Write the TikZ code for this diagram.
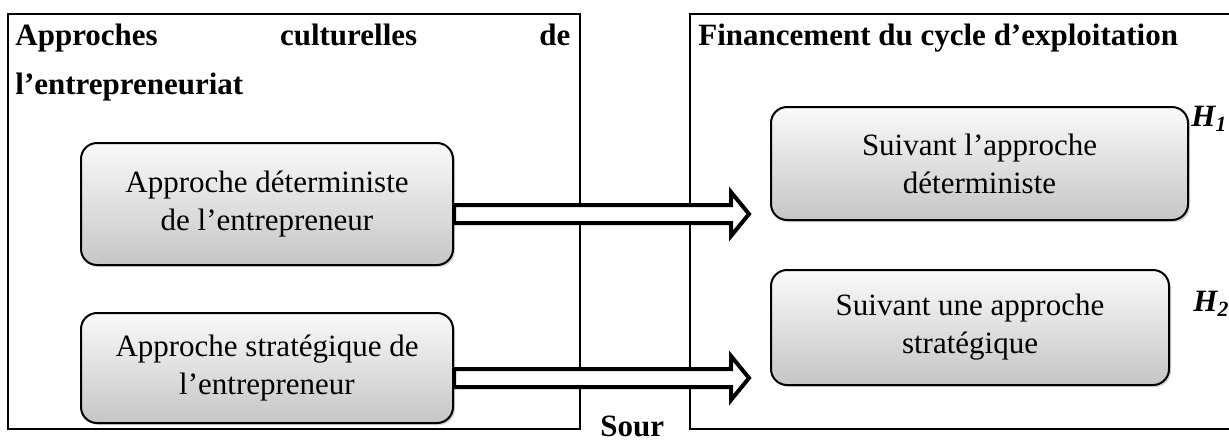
\documentclass[tikz,border=0pt]{standalone}
\usepackage{fontspec}
\setmainfont{Liberation Serif}
\usetikzlibrary{calc, shadows}

\tikzset{
  cadre/.style={draw, line width=1pt},
  titre/.style={font=\fontsize{15.5}{24.5}\selectfont\bfseries, inner sep=0pt},
  bloc/.style={draw, line width=1pt, rounded corners=8pt, top color=gray!4, bottom color=gray!45,
    drop shadow={shadow xshift=1pt, shadow yshift=-1pt, opacity=0.35},
    align=center, inner sep=0pt, font=\fontsize{15.5}{19}\selectfont},
  fleche/.style={draw, fill=white, line width=2pt, line join=miter,
    to path={let \p1=(\tikztostart), \p2=(\tikztotarget) in
      (\x1,\y1+4.5pt) -- (\x2-9pt,\y1+4.5pt) -- (\x2-9pt,\y1+11pt) -- (\x2,\y1)
      -- (\x2-9pt,\y1-11pt) -- (\x2-9pt,\y1-4.5pt) -- (\x1,\y1-4.5pt) -- cycle}},
  hyp/.style={font=\fontsize{15.5}{15.5}\selectfont\bfseries\itshape, anchor=west, inner sep=0pt}
}

\begin{document}
\begin{tikzpicture}[x=0.5pt, y=-0.5pt]
    \useasboundingbox (0,0) rectangle (1229,441);
    \clip (0,0) rectangle (1229,441);

    \draw[cadre] (8,14) rectangle (580,429);
    \draw[cadre] (690,14) rectangle (1240,429);

    \node[titre, anchor=north west, text width=277.5pt, align=left] (titreG) at (15,24)
        {Approches\hfill culturelles\hfill de\\l’entrepreneuriat};
    \node[titre, anchor=north west] (titreD) at (698,24) {Financement du cycle d’exploitation};

    \node[bloc, minimum width=186pt, minimum height=61pt] (detG) at (267,204) {Approche déterministe\\de l’entrepreneur};
    \node[bloc, minimum width=186pt, minimum height=55pt] (strG) at (267,368) {Approche stratégique de\\l’entrepreneur};
    \node[bloc, minimum width=208.5pt, minimum height=56.5pt] (detD) at (979.5,163.5) {Suivant l’approche\\déterministe};
    \node[bloc, minimum width=199pt, minimum height=57.5pt] (strD) at (970,327.5) {Suivant une approche\\stratégique};

    \draw[fleche] ([yshift=-5pt]detG.east) to ([xshift=-10.5pt]detD.west);
    \draw[fleche] ([yshift=-5pt]strG.east) to ([xshift=-10.5pt]strD.west);

    \node[hyp] (h1) at (1191,119) {H\textsubscript{1}};
    \node[hyp] (h2) at (1193,304) {H\textsubscript{2}};
    \node[titre, anchor=base west] (source) at (600,436) {Sour};
\end{tikzpicture}
\end{document}
